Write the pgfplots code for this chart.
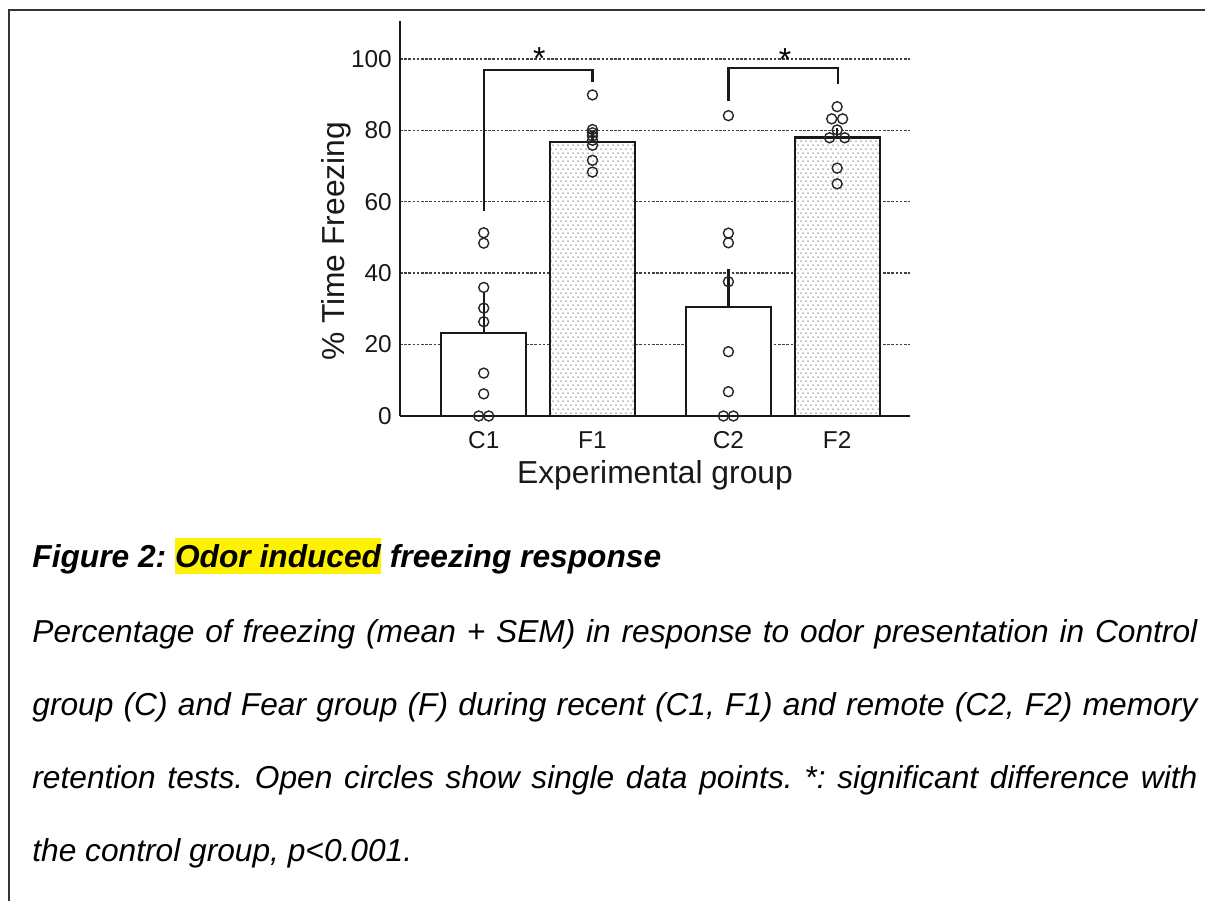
\documentclass[border=0pt]{standalone}
\usepackage{fontspec}
\setmainfont{Liberation Sans}
\usepackage{pgfplots}
\pgfplotsset{compat=1.18}
\usetikzlibrary{patterns.meta}

\tikzdeclarepattern{
  name=fdots, type=uncolored,
  bottom left={(0pt,0pt)}, top right={(2.5pt,4.2pt)},
  tile size={(2.5pt,4.2pt)},
  code={\fill (0.6pt,1.05pt) circle (0.42pt); \fill (1.85pt,3.15pt) circle (0.42pt);}
}

\begin{document}
\frenchspacing
\begin{tikzpicture}
\path[use as bounding box] (0pt,0pt) rectangle (602.5pt,450.5pt);
\draw[line width=0.9pt, black!80] (4.5pt,0pt) -- (4.5pt,445.5pt) -- (602.5pt,445.5pt);

\begin{axis}[
  at={(200pt,242.5pt)}, anchor=south west, scale only axis,
  width=255pt, height=197.5pt,
  xmin=-0.77, xmax=3.92, ymin=0, ymax=110.6,
  clip=false,
  axis x line*=bottom, axis y line*=left,
  axis line style={-, line width=1.15pt, black!90},
  xtick={0,1,2.25,3.25}, xticklabels={C1,F1,C2,F2},
  ytick={0,20,40,60,80,100},
  major tick length=0pt,
  ymajorgrids,
  grid style={dash pattern=on 1.3pt off 0.8pt, line width=0.65pt, black!75},
  /pgf/number format/assume math mode=true,
  ticklabel style={font=\fontsize{12.2pt}{14pt}\selectfont, black!90},
  xticklabel style={anchor=base, yshift=-16pt},
  yticklabel style={xshift=-0.6pt},
  ylabel={\% Time Freezing},
  xlabel={Experimental group},
  label style={font=\fontsize{15.9pt}{18pt}\selectfont, black!90},
  ylabel style={at={(axis description cs:-0.1088,0.442)}, anchor=base},
  xlabel style={at={(axis description cs:0.5,-0.172)}, anchor=base},
]
% Control bars
\addplot[ybar, bar width=42.5pt, bar shift=0pt, fill=white, draw=black!90, line width=1.15pt,
  error bars/.cd, y dir=plus, y explicit, error mark=none,
  error bar style={line width=1.15pt, black!90}]
  coordinates {(0,23.3) +- (0,11.5) (2.25,30.6) +- (0,10.5)};
% Fear bars: white base, then dotted pattern
\addplot[ybar, bar width=42.5pt, bar shift=0pt, fill=white, draw=none]
  coordinates {(1,76.8) (3.25,78.0)};
\addplot[ybar, bar width=42.5pt, bar shift=0pt, pattern=fdots, pattern color=black!60,
  draw=black!90, line width=1.15pt,
  error bars/.cd, y dir=plus, y explicit, error mark=none,
  error bar style={line width=1.15pt, black!90}]
  coordinates {(1,76.8) +- (0,3.0) (3.25,78.0) +- (0,2.5)};
% individual data points
\addplot[only marks, mark=o, mark size=2.5pt, black!85, mark options={line width=0.7pt}]
  coordinates {
   (0,51.3) (0,48.4) (0,36.0) (0,30.2) (0,26.4) (0,12.0) (0,6.2) (-0.046,0) (0.046,0)
   (1,89.9) (1,80.2) (1,79.3) (1,78.4) (1,77.2) (1,75.8) (1,71.6) (1,68.3)
   (2.25,84.1) (2.25,51.2) (2.25,48.5) (2.25,37.6) (2.25,18.0) (2.25,6.8) (2.204,0) (2.296,0)
   (3.25,86.6) (3.20,83.2) (3.30,83.2) (3.25,80.1) (3.18,77.9) (3.32,77.9) (3.25,69.4) (3.25,65.0)
  };
% significance brackets
\addplot[black!90, line width=1.2pt, mark=none] coordinates {(0,57.4) (0,96.9) (1.0,96.9) (1.0,93.6)};
\addplot[black!90, line width=1.2pt, mark=none] coordinates {(2.25,88.2) (2.25,97.4) (3.26,97.4) (3.26,92.9)};
\node[anchor=base, font=\fontsize{15.9pt}{18pt}\selectfont] at (axis cs:0.51,97.0) {*};
\node[anchor=base, font=\fontsize{15.9pt}{18pt}\selectfont] at (axis cs:2.77,96.7) {*};
\end{axis}

% caption
\setlength{\fboxsep}{0pt}
\node[anchor=base west, inner sep=0pt, font=\fontsize{15.85pt}{19pt}\selectfont\bfseries\itshape]
  at (16pt,167pt) {Figure 2: \colorbox{yellow}{\rule[-0.212em]{0pt}{1.117em}Odor induced} freezing response};
\begin{scope}[every node/.style={anchor=base west, inner sep=0pt, font=\fontsize{15.85pt}{19pt}\selectfont\itshape}]
\node at (16pt,129.5pt) {\hbox to 582.5pt{Percentage of freezing (mean + SEM) in response to odor presentation in Control}};
\node at (16pt,93pt) {\hbox to 582.5pt{group (C) and Fear group (F) during recent (C1, F1) and remote (C2, F2) memory}};
\node at (16pt,56.5pt) {\hbox to 582.5pt{retention tests. Open circles show single data points. *: significant difference with}};
\node at (16pt,20pt) {the control group, p<0.001.};
\end{scope}
\end{tikzpicture}
\end{document}
